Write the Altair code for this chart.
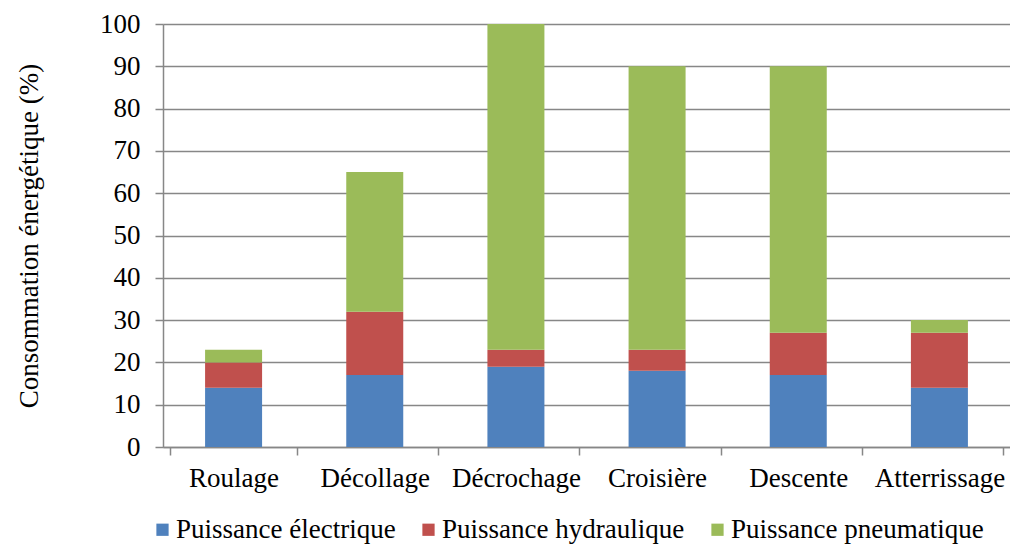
import altair as alt
import pandas as pd

phases = ["Roulage", "Décollage", "Décrochage", "Croisière", "Descente", "Atterrissage"]
series = ["Puissance électrique", "Puissance hydraulique", "Puissance pneumatique"]
electrique = [14, 17, 19, 18, 17, 14]
hydraulique = [6, 15, 4, 5, 10, 13]
pneumatique = [3, 33, 77, 67, 63, 3]
colors = ["#4F81BD", "#C0504D", "#9BBB59"]

rows = []
for i, p in enumerate(phases):
    for k, (name, vals) in enumerate(zip(series, [electrique, hydraulique, pneumatique])):
        rows.append({"Phase": p, "Source": name, "Valeur": vals[i], "ordre": k})
df = pd.DataFrame(rows)

FONT = "Liberation Serif"
FS = 27
AXIS_GREY = "#878787"

chart = alt.Chart(df).mark_bar(size=57).encode(
    x=alt.X("Phase:N", sort=phases, title=None,
            axis=alt.Axis(labelAngle=0, tickBand="extent", tickSize=8,
                          labelPadding=10, labelFontSize=FS, labelFont=FONT,
                          labelColor="black", domainColor=AXIS_GREY, tickColor=AXIS_GREY,
                          domainWidth=1.5, tickWidth=1.5, labelLimit=300)),
    y=alt.Y("Valeur:Q", stack="zero",
            scale=alt.Scale(domain=[0, 100], nice=False),
            axis=alt.Axis(values=list(range(0, 101, 10)), title="Consommation énergétique (%)",
                          titleFont=FONT, titleFontSize=FS, titleFontWeight="normal",
                          titleColor="black", titlePadding=56,
                          labelFontSize=FS, labelFont=FONT, labelColor="black",
                          tickSize=8, labelPadding=15, grid=True, gridColor=AXIS_GREY,
                          gridWidth=1.5, domainColor=AXIS_GREY, tickColor=AXIS_GREY,
                          domainWidth=1.5, tickWidth=1.5)),
    color=alt.Color("Source:N", sort=series,
                    scale=alt.Scale(domain=series, range=colors),
                    legend=alt.Legend(title=None, orient="none", direction="horizontal",
                                      legendX=-14, legendY=492, symbolType="square",
                                      symbolSize=150, symbolStrokeWidth=0,
                                      labelFont=FONT, labelFontSize=FS, labelColor="black",
                                      labelLimit=400, columnPadding=19, labelOffset=0)),
    order=alt.Order("ordre:Q", sort="ascending"),
).properties(
    width=847, height=423,
    padding={"left": 163, "top": 24, "right": 0, "bottom": 97},
    autosize=alt.AutoSizeParams(type="none"),
).configure_view(stroke=None).configure(background="white")

chart.save("out.html", embed_options={"renderer": "svg", "actions": False})
